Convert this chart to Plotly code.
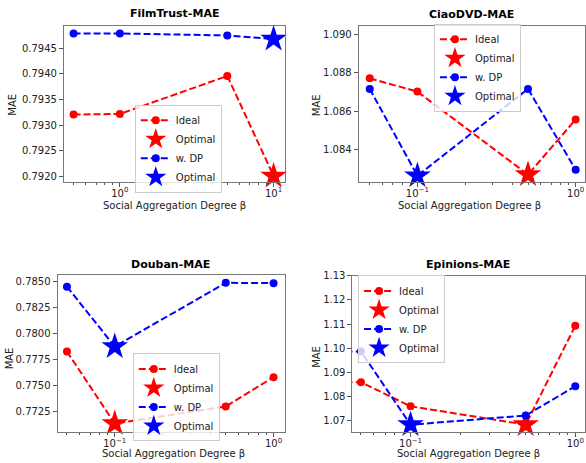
import plotly.graph_objects as go

# ---------------- data ----------------
titles = ["FilmTrust-MAE", "CiaoDVD-MAE", "Douban-MAE", "Epinions-MAE"]

ft_beta = [0.5, 1, 5, 10]
ft_ideal = [0.79321, 0.79322, 0.79396, 0.79201]
ft_dp = [0.79479, 0.79479, 0.79475, 0.79468]

ciao_beta = [0.05, 0.1, 0.5, 1]
ciao_ideal = [1.08772, 1.08703, 1.08271, 1.08558]
ciao_dp = [1.08717, 1.08265, 1.08717, 1.08296]

douban_beta = [0.05, 0.1, 0.5, 1]
douban_ideal = [0.77825, 0.77129, 0.77294, 0.77577]
douban_dp = [0.78452, 0.77873, 0.78489, 0.78486]

epi_beta = [0.01, 0.05, 0.1, 0.5, 1]
epi_ideal = [1.0861, 1.0860, 1.0760, 1.0684, 1.1093]
epi_dp = [1.0990, 1.0987, 1.0684, 1.0722, 1.0843]

xlabel = "Social Aggregation Degree β"
ylabel = "MAE"

panels = [
    (ft_beta, ft_ideal, ft_dp),
    (ciao_beta, ciao_ideal, ciao_dp),
    (douban_beta, douban_ideal, douban_dp),
    (epi_beta, epi_ideal, epi_dp),
]

# ---------------- layout geometry ----------------
W, H = 586, 463
xdomains = [[64 / W, 285 / W], [359.3 / W, 1.0], [57.7 / W, 285 / W], [353 / W, 1.0]]
ydomains = [[1 - 178 / H, 1 - 20 / H], [1 - 178 / H, 1 - 20 / H],
            [1 - 431.3 / H, 1 - 272.7 / H], [1 - 431.3 / H, 1 - 273.3 / H]]
xranges = [[-0.364, 1.071], [-1.371, 0.059], [-1.360, 0.069], [-1.353, 0.059]]
yranges = [[0.79190, 0.79494], [1.08234, 1.09046], [0.77050, 0.78563], [1.0655, 1.1300]]
ydticks = [0.0005, 0.002, 0.0025, 0.01]
yfmts = [".4f", ".3f", ".4f", ".2f"]
xtickvals = [[1, 10], [0.1, 1], [0.1, 1], [0.1, 1]]
xticktext = [["10<sup>0</sup>", "10<sup>1</sup>"], ["10<sup>\u22121</sup>", "10<sup>0</sup>"],
             ["10<sup>\u22121</sup>", "10<sup>0</sup>"], ["10<sup>\u22121</sup>", "10<sup>0</sup>"]]
minor_vals = [m * 10 ** e for e in (-2, -1, 0, 1) for m in range(2, 10)]
legend_pos = [(135 / W, 1 - 100 / H), (434.7 / W, 1 - 18 / H),
              (133 / W, 1 - 352 / H), (358.7 / W, 1 - 273 / H)]
title_pos = [(174.5, 8), (472, 8.5), (171, 261.5), (469.3, 261.5)]
xlab_pos = [(174.5, 202), (470, 202), (173.3, 453), (469.3, 453)]
ylab_pos = [(13, 100), (317, 100), (9, 357), (317, 355)]

FONT = "DejaVu Sans"
fig = go.Figure()
dash = "7px,3px"

for i, (bx, yi, yd) in enumerate(panels):
    n = i + 1
    xa = "x" if n == 1 else f"x{n}"
    ya = "y" if n == 1 else f"y{n}"
    lg = "legend" if n == 1 else f"legend{n}"
    ii = yi.index(min(yi))
    jd = yd.index(min(yd))
    fig.add_trace(go.Scatter(x=bx, y=yi, mode="lines+markers", name="Ideal",
                             line=dict(color="red", width=2, dash=dash),
                             marker=dict(color="red", size=8, symbol="circle"),
                             xaxis=xa, yaxis=ya, legend=lg, cliponaxis=True))
    fig.add_trace(go.Scatter(x=[bx[ii]], y=[yi[ii]], mode="markers", name="Optimal",
                             marker=dict(color="red", size=20, symbol="star", line=dict(width=0)),
                             xaxis=xa, yaxis=ya, legend=lg, cliponaxis=False))
    fig.add_trace(go.Scatter(x=bx, y=yd, mode="lines+markers", name="w. DP",
                             line=dict(color="blue", width=2, dash=dash),
                             marker=dict(color="blue", size=8, symbol="circle"),
                             xaxis=xa, yaxis=ya, legend=lg, cliponaxis=True))
    fig.add_trace(go.Scatter(x=[bx[jd]], y=[yd[jd]], mode="markers", name="Optimal",
                             marker=dict(color="blue", size=20, symbol="star", line=dict(width=0)),
                             xaxis=xa, yaxis=ya, legend=lg, cliponaxis=False))

    axis_common = dict(showline=True, linecolor="#777", linewidth=1, mirror=True,
                       ticks="outside", ticklen=4, tickcolor="#555", showgrid=False,
                       zeroline=False, tickfont=dict(family=FONT, size=10, color="#222"))
    fig.layout[f"xaxis{'' if n == 1 else n}"] = dict(
        domain=xdomains[i], anchor=ya, type="log", range=xranges[i],
        tickmode="array", tickvals=xtickvals[i], ticktext=xticktext[i], ticklabelstandoff=-2,
        minor=dict(ticks="outside", ticklen=2, tickcolor="#555", tickmode="array", tickvals=minor_vals),
        **axis_common)
    fig.layout[f"yaxis{'' if n == 1 else n}"] = dict(
        domain=ydomains[i], anchor=xa, range=yranges[i], dtick=ydticks[i], tickformat=yfmts[i],
        **axis_common)
    fig.layout[lg] = dict(x=legend_pos[i][0], y=legend_pos[i][1], xanchor="left", yanchor="top",
                          bgcolor="rgba(255,255,255,0.8)", bordercolor="#ccc", borderwidth=1,
                          font=dict(family=FONT, size=10, color="#222"), tracegroupgap=0,
                          itemsizing="trace")
    fig.add_annotation(text=f"<b>{titles[i]}</b>", x=title_pos[i][0] / W, y=1 - title_pos[i][1] / H,
                       xref="paper", yref="paper", showarrow=False, xanchor="center", yanchor="middle",
                       font=dict(family=FONT, size=11, color="black"))
    fig.add_annotation(text=xlabel, x=xlab_pos[i][0] / W, y=1 - xlab_pos[i][1] / H,
                       xref="paper", yref="paper", showarrow=False, xanchor="center", yanchor="middle",
                       font=dict(family=FONT, size=10, color="#222"))
    fig.add_annotation(text=ylabel, x=ylab_pos[i][0] / W, y=1 - ylab_pos[i][1] / H, textangle=-90,
                       xref="paper", yref="paper", showarrow=False, xanchor="center", yanchor="middle",
                       font=dict(family=FONT, size=10, color="#222"))

fig.update_layout(width=W, height=H, margin=dict(l=0, r=0, t=0, b=0),
                  paper_bgcolor="white", plot_bgcolor="white",
                  font=dict(family=FONT, size=10))

fig.write_html("out.html", config={"displayModeBar": False},
               post_script="document.body.style.margin='0';document.body.style.padding='0';"
                           "document.body.style.overflow='hidden';")
